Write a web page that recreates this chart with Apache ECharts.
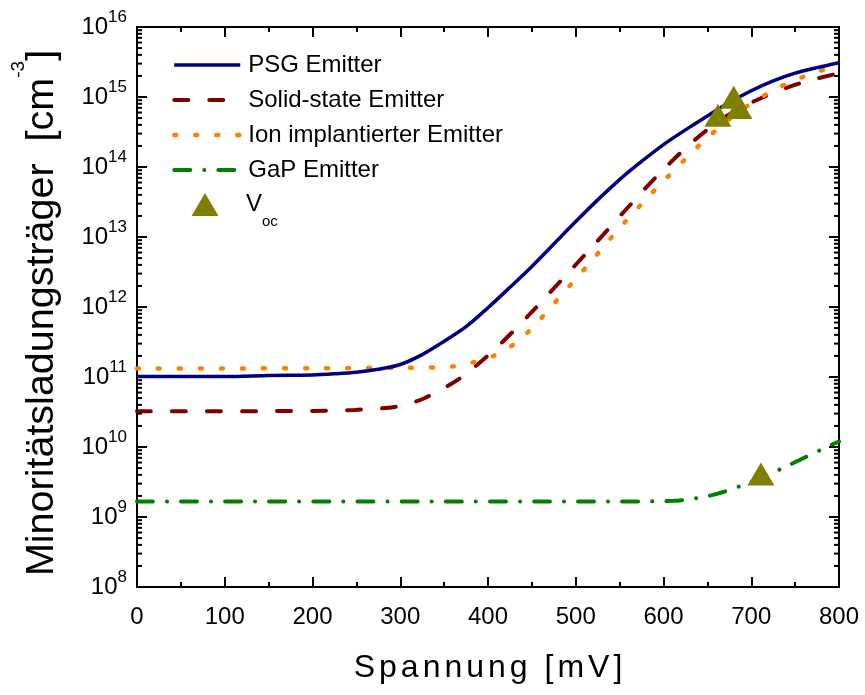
<!DOCTYPE html>
<html><head><meta charset="utf-8">
<script src="https://cdn.jsdelivr.net/npm/echarts@6/dist/echarts.min.js"></script>
<style>html,body{margin:0;padding:0;background:#fff}#c{width:865px;height:695px}</style>
</head><body><div id="c"></div>
<script>
// ---- data (voltage in mV, minority carrier density in cm^-3) ----
const psgV = [0, 100, 150, 200, 225, 250, 275, 300, 325, 350, 375, 400, 425, 450, 475, 500, 525, 550, 575, 600, 625, 650, 675, 700, 725, 750, 775, 800];
const psgN = [1.02e11, 1.02e11, 1.05e11, 1.07e11, 1.11e11, 1.17e11, 1.29e11, 1.51e11, 2.09e11, 3.24e11, 5.25e11, 9.77e11, 1.91e12, 3.80e12, 7.94e12, 1.66e13, 3.39e13, 6.61e13, 1.20e14, 2.09e14, 3.39e14, 5.37e14, 8.32e14, 1.23e15, 1.70e15, 2.19e15, 2.63e15, 3.09e15];

const solidV = [0, 200, 248, 286, 307, 328, 368, 408, 447, 484, 521, 557, 594, 634, 672, 712, 754, 793, 800];
const solidN = [3.24e10, 3.27e10, 3.39e10, 3.63e10, 4.07e10, 5.01e10, 9.55e10, 2.51e11, 7.76e11, 2.45e12, 7.76e12, 2.45e13, 7.76e13, 2.34e14, 5.37e14, 9.77e14, 1.55e15, 2.09e15, 2.19e15];

const ionV = [0, 300, 359, 383, 406, 431, 454, 476, 497, 516, 537, 558, 581, 604, 627, 651, 685, 721, 746, 770, 793, 800];
const ionN = [1.32e11, 1.35e11, 1.41e11, 1.62e11, 2.0e11, 3.02e11, 5.62e11, 1.15e12, 2.29e12, 4.27e12, 8.71e12, 1.74e13, 3.55e13, 7.08e13, 1.38e14, 2.69e14, 6.03e14, 1.17e15, 1.66e15, 2.19e15, 2.69e15, 2.82e15];

const gapV = [0, 536, 611, 638, 661, 687, 711, 736, 761, 786, 800];
const gapN = [1.66e9, 1.66e9, 1.70e9, 1.86e9, 2.14e9, 2.75e9, 3.63e9, 5.01e9, 7.08e9, 1.0e10, 1.2e10];

const vocV = [662, 680, 686, 711];
const vocN = [5.5e14, 9.9e14, 7.1e14, 4.1e9];

const seriesNames = ['PSG Emitter', 'Solid-state Emitter', 'Ion implantierter Emitter', 'GaP Emitter', 'Voc'];
const xTitle = 'Spannung [mV]';
const yTitleMain = 'Minoritätsladungsträger  [cm';
const yTitleSup = '-3';
const yTitleEnd = ']';

function pairs(xs, ys) { return xs.map((x, i) => [x, ys[i]]); }

const FONT = 'Liberation Sans, Arial, sans-serif';
const chart = echarts.init(document.getElementById('c'), null, {renderer: 'canvas'});

function spaced(str) {
  return str.split('').map(ch => '{c|' + ch + '}').join('');
}

const yLabelFmt = v => '{b|10}{s|' + Math.round(Math.log10(v)) + '}';
const legendText = {
  fontSize: 24, fontFamily: FONT, color: '#000', lineHeight: 24, padding: [0, 0, 0, 3],
  rich: {
    v: {fontSize: 24, fontFamily: FONT, color: '#000', lineHeight: 24},
    sub: {fontSize: 15, fontFamily: FONT, color: '#000', lineHeight: 15, padding: [34, 0, 0, 0]}
  }
};
const lineWidths = [3.5, 4, 4.5, 4];

const option = {
  animation: false,
  backgroundColor: '#fff',
  grid: {left: 137, right: 26, top: 27, bottom: 108, containLabel: false},
  xAxis: [{
    type: 'value', min: 0, max: 800, interval: 100, position: 'bottom',
    axisLine: {show: true, onZero: false, lineStyle: {color: '#000', width: 2}},
    axisTick: {show: true, inside: true, length: 10, lineStyle: {color: '#000', width: 2}},
    minorTick: {show: true, splitNumber: 2, length: 5, lineStyle: {color: '#000', width: 2}},
    splitLine: {show: false},
    axisLabel: {fontSize: 24, fontFamily: FONT, color: '#000', margin: 18}
  }, {
    type: 'value', min: 0, max: 800, interval: 100, position: 'top',
    axisLine: {show: true, onZero: false, lineStyle: {color: '#000', width: 2}},
    axisTick: {show: true, inside: true, length: 10, lineStyle: {color: '#000', width: 2}},
    minorTick: {show: true, splitNumber: 2, length: 5, lineStyle: {color: '#000', width: 2}},
    splitLine: {show: false},
    axisLabel: {show: false}
  }],
  yAxis: [{
    type: 'log', logBase: 10, min: 1e8, max: 1e16, splitNumber: 8, position: 'left',
    axisLine: {show: true, onZero: false, lineStyle: {color: '#000', width: 2}},
    axisTick: {show: true, inside: true, length: 10, lineStyle: {color: '#000', width: 2}},
    splitLine: {show: false},
    axisLabel: {
      margin: 10, color: '#000', formatter: yLabelFmt,
      rich: {
        b: {fontSize: 24, fontFamily: FONT, color: '#000', lineHeight: 24},
        s: {fontSize: 17, fontFamily: FONT, color: '#000', lineHeight: 17, padding: [0, 0, 19, 0]}
      }
    }
  }, {
    type: 'log', logBase: 10, min: 1e8, max: 1e16, splitNumber: 8, position: 'right',
    axisLine: {show: true, onZero: false, lineStyle: {color: '#000', width: 2}},
    axisTick: {show: true, inside: true, length: 10, lineStyle: {color: '#000', width: 2}},
    splitLine: {show: false},
    axisLabel: {show: false}
  }],
  legend: [{
    orient: 'vertical', left: 167, top: 48, itemWidth: 66, itemHeight: 23, itemGap: 11,
    selectedMode: false,
    textStyle: legendText,
    data: [0, 1, 2, 3].map(i => ({name: seriesNames[i], itemStyle: {opacity: 0}, lineStyle: {width: lineWidths[i]}}))
  }, {
    orient: 'vertical', left: 167, top: 175, itemWidth: 66, itemHeight: 23,
    selectedMode: false,
    textStyle: legendText,
    formatter: () => '{v|V}{sub|oc}',
    data: [{name: seriesNames[4], icon: 'path://M0,0M66,23M19.5,23L33,0L46.5,23Z'}]
  }],
  series: [{
    name: seriesNames[0], type: 'line', data: pairs(psgV, psgN), symbol: 'none',
    smooth: 0.3,
    lineStyle: {color: '#000080', width: lineWidths[0]}, itemStyle: {color: '#000080'}, z: 3
  }, {
    name: seriesNames[1], type: 'line', data: pairs(solidV, solidN), symbol: 'none',
    smooth: 0.3,
    lineStyle: {color: '#800000', width: lineWidths[1], type: [14, 21], cap: 'round'}, itemStyle: {color: '#800000'}, z: 2
  }, {
    name: seriesNames[2], type: 'line', data: pairs(ionV, ionN), symbol: 'none',
    smooth: 0.3,
    lineStyle: {color: '#ff8000', width: lineWidths[2], type: [2, 19], cap: 'round'}, itemStyle: {color: '#ff8000'}, z: 2
  }, {
    name: seriesNames[3], type: 'line', data: pairs(gapV, gapN), symbol: 'none',
    smooth: 0.3,
    lineStyle: {color: '#008000', width: lineWidths[3], type: [16, 14, 0.1, 14], cap: 'round'}, itemStyle: {color: '#008000'}, z: 2
  }, {
    name: seriesNames[4], type: 'scatter', data: pairs(vocV, vocN),
    symbol: 'triangle', symbolSize: [27, 23],
    itemStyle: {color: '#808000', opacity: 1}, z: 5
  }],
  graphic: {elements: [{
    id: 'xtitle', type: 'text', x: 488, y: 668,
    style: {
      text: spaced(xTitle), align: 'center', verticalAlign: 'middle',
      rich: {c: {fontSize: 32, fontFamily: FONT, fill: '#000', padding: [0, 2, 0, 2]}}
    }
  }, {
    id: 'ytitle', type: 'text', x: 42, y: 313, rotation: Math.PI / 2,
    style: {
      text: '{m|' + yTitleMain + '}{s|' + yTitleSup + '}{m|' + yTitleEnd + '}',
      align: 'center', verticalAlign: 'middle',
      rich: {
        m: {fontSize: 39.5, fontFamily: FONT, fill: '#000', lineHeight: 40},
        s: {fontSize: 19, fontFamily: FONT, fill: '#000', lineHeight: 19, padding: [0, 0, 47, 0]}
      }
    }
  }]}
};
chart.setOption(option);

// log minor ticks (2..9 per decade) on left and right axes, placed through the axis scale
const xl = chart.convertToPixel({xAxisIndex: 0}, 0);
const xr = chart.convertToPixel({xAxisIndex: 0}, 800);
const ticks = [];
for (let e = 8; e < 16; e++) {
  for (let k = 2; k <= 9; k++) {
    const y = chart.convertToPixel({yAxisIndex: 0}, k * Math.pow(10, e));
    ticks.push({id: 'tl' + e + '_' + k, type: 'line', silent: true,
      shape: {x1: xl, y1: y, x2: xl + 5, y2: y}, style: {stroke: '#000', lineWidth: 2}});
    ticks.push({id: 'tr' + e + '_' + k, type: 'line', silent: true,
      shape: {x1: xr, y1: y, x2: xr - 5, y2: y}, style: {stroke: '#000', lineWidth: 2}});
  }
}
chart.setOption({graphic: {elements: ticks}});
</script>
</body></html>
